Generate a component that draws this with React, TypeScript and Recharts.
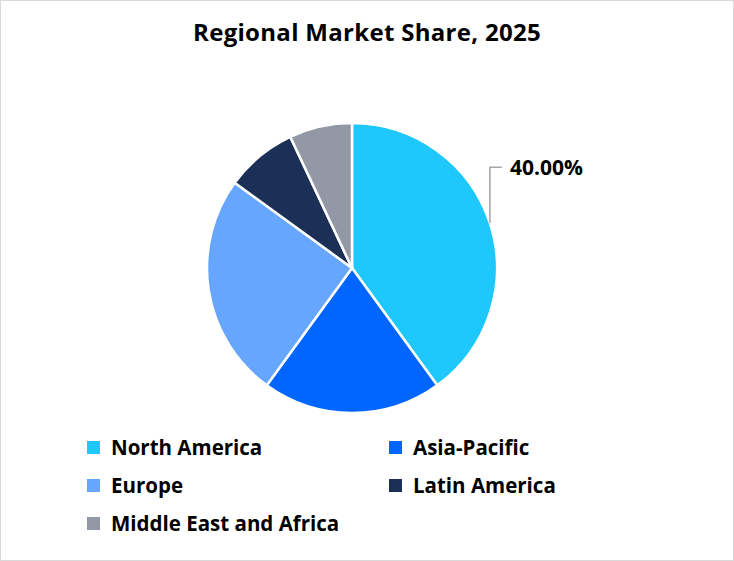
import { PieChart, Pie, Cell, Legend } from 'recharts'

const regions = ['North America', 'Asia-Pacific', 'Europe', 'Latin America', 'Middle East and Africa']
const shares = [40, 20, 25, 8, 7]
const colors = ['#1EC8FC', '#0066FF', '#66A6FF', '#1C3057', '#9298A5']
const labelledRegions = ['North America']

const data = regions.map((name, i) => ({ name, value: shares[i], color: colors[i] }))
const total = shares.reduce((s, v) => s + v, 0)

const FONT = '"Open Sans", "Noto Sans", sans-serif'

function SliceLabel(props: any) {
  const { cx, cy, midAngle, outerRadius, payload } = props
  if (!labelledRegions.includes(payload.name)) return null
  const rad = (Math.PI / 180) * midAngle
  const x0 = cx + outerRadius * Math.cos(rad)
  const y0 = cy - outerRadius * Math.sin(rad)
  const y1 = y0 - 56
  const x1 = x0 + 12
  const pct = ((payload.value / total) * 100).toFixed(2) + '%'
  return (
    <g>
      <polyline points={`${x0},${y0} ${x0},${y1} ${x1},${y1}`} fill="none" stroke="#A6A6A6" strokeWidth={1.5} />
      <text x={x1 + 8} y={y1} dominantBaseline="central" fontFamily={FONT} fontWeight={700} fontSize={21} fill="#000">
        {pct}
      </text>
    </g>
  )
}

function LegendContent() {
  return (
    <div style={{ display: 'grid', gridTemplateColumns: '302px 200px', rowGap: 16, fontFamily: FONT, fontWeight: 700, fontSize: 20.5, color: '#000' }}>
      {data.map((d) => (
        <div key={d.name} style={{ display: 'flex', alignItems: 'center', height: 22 }}>
          <span style={{ width: 13, height: 13, background: d.color, marginRight: 11, flexShrink: 0 }} />
          <span style={{ whiteSpace: 'nowrap' }}>{d.name}</span>
        </div>
      ))}
    </div>
  )
}

export default function App() {
  return (
    <div style={{ position: 'absolute', left: 0, top: 0, width: 734, height: 561, boxSizing: 'border-box', border: '1px solid #D9D9D9', background: '#fff' }}>
      <div style={{ position: 'absolute', left: 0, right: 0, top: 14, textAlign: 'center', fontFamily: FONT, fontWeight: 700, fontSize: 24, letterSpacing: 0.3, color: '#000' }}>
        Regional Market Share, 2025
      </div>
      <div style={{ position: 'absolute', left: -1, top: -1 }}>
        <PieChart width={734} height={561} margin={{ top: 0, right: 0, bottom: 0, left: 0 }}>
          <Pie
            data={data}
            dataKey="value"
            nameKey="name"
            cx={352}
            cy={268}
            outerRadius={145}
            startAngle={90}
            endAngle={-270}
            stroke="#fff"
            strokeWidth={2.5}
            label={SliceLabel}
            labelLine={false}
            isAnimationActive={false}
          >
            {data.map((d) => (
              <Cell key={d.name} fill={d.color} />
            ))}
          </Pie>
          <Legend
            content={LegendContent}
            wrapperStyle={{ position: 'absolute', left: 87, top: 436, width: 520 }}
          />
        </PieChart>
      </div>
    </div>
  )
}
